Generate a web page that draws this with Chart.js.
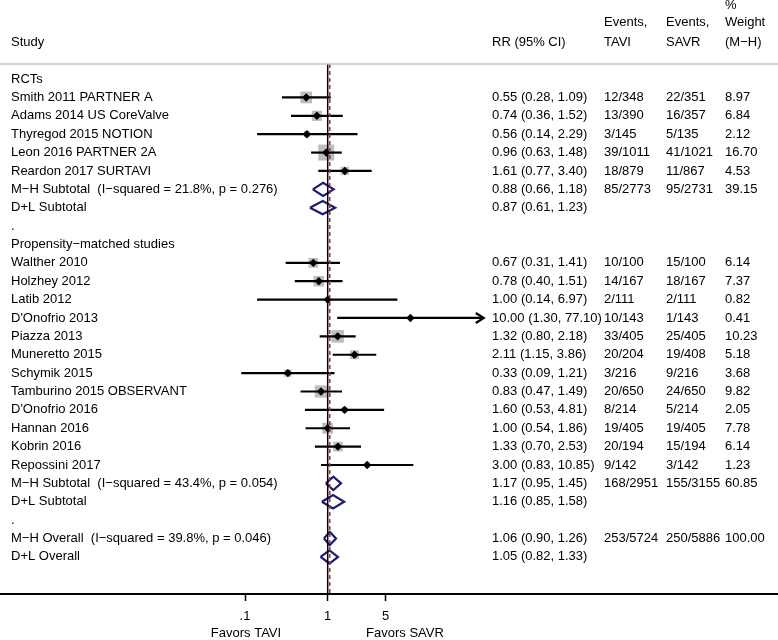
<!DOCTYPE html>
<html>
<head>
<meta charset="utf-8">
<script src="https://cdn.jsdelivr.net/npm/chart.js@4/dist/chart.umd.min.js"></script>
<style>
html,body{margin:0;padding:0;background:#fff;}
canvas{display:block;}
</style>
</head>
<body>
<canvas id="c" width="778" height="640"></canvas>
<script>
// ---------------- data ----------------
const rowLabels = [
  "RCTs",
  "Smith 2011 PARTNER A",
  "Adams 2014 US CoreValve",
  "Thyregod 2015 NOTION",
  "Leon 2016 PARTNER 2A",
  "Reardon 2017 SURTAVI",
  "M\u2212H Subtotal  (I\u2212squared = 21.8%, p = 0.276)",
  "D+L Subtotal",
  ".",
  "Propensity\u2212matched studies",
  "Walther 2010",
  "Holzhey 2012",
  "Latib 2012",
  "D'Onofrio 2013",
  "Piazza 2013",
  "Muneretto 2015",
  "Schymik 2015",
  "Tamburino 2015 OBSERVANT",
  "D'Onofrio 2016",
  "Hannan 2016",
  "Kobrin 2016",
  "Repossini 2017",
  "M\u2212H Subtotal  (I\u2212squared = 43.4%, p = 0.054)",
  "D+L Subtotal",
  ".",
  "M\u2212H Overall  (I\u2212squared = 39.8%, p = 0.046)",
  "D+L Overall"
];
const rowKinds = [
  "head","study","study","study","study","study","pooled","pooled","blank",
  "head","study","study","study","study","study","study","study","study","study","study","study","study",
  "pooled","pooled","blank","pooled","pooled"
];
const rr = [null,0.55,0.74,0.56,0.96,1.61,0.88,0.87,null,
  null,0.67,0.78,1.00,10.00,1.32,2.11,0.33,0.83,1.60,1.00,1.33,3.00,
  1.17,1.16,null,1.06,1.05];
const ciLow = [null,0.28,0.36,0.14,0.63,0.77,0.66,0.61,null,
  null,0.31,0.40,0.14,1.30,0.80,1.15,0.09,0.47,0.53,0.54,0.70,0.83,
  0.95,0.85,null,0.90,0.82];
const ciHigh = [null,1.09,1.52,2.29,1.48,3.40,1.18,1.23,null,
  null,1.41,1.51,6.97,77.10,2.18,3.86,1.21,1.49,4.81,1.86,2.53,10.85,
  1.45,1.58,null,1.26,1.33];
const eventsTAVI = ["","12/348","13/390","3/145","39/1011","18/879","85/2773","","",
  "","10/100","14/167","2/111","10/143","33/405","20/204","3/216","20/650","8/214","19/405","20/194","9/142",
  "168/2951","","","253/5724",""];
const eventsSAVR = ["","22/351","16/357","5/135","41/1021","11/867","95/2731","","",
  "","15/100","18/167","2/111","1/143","25/405","19/408","9/216","24/650","5/214","19/405","15/194","3/142",
  "155/3155","","","250/5886",""];
const weights = [null,8.97,6.84,2.12,16.70,4.53,39.15,null,null,
  null,6.14,7.37,0.82,0.41,10.23,5.18,3.68,9.82,2.05,7.78,6.14,1.23,
  60.85,null,null,100.00,null];
const tickValues = [0.1, 1, 5];
const tickLabels = [".1", "1", "5"];
const overallRR = 1.06;
const nullValue = 1;

// ---------------- styling ----------------
const FONT = '"Liberation Sans", Arial, Helvetica, sans-serif';
const FS = 13;
const NAVY = '#1b1b78';
const MAROON = '#93383e';
const BOX = '#bdbdbd';
const boxK = 3.9;          // box side = boxK * sqrt(weight) px
const diamondHalf = 0.36;  // half height of pooled diamonds, in rows

const studyIdx = rowKinds.map((k,i)=>k==='study'?i:-1).filter(i=>i>=0);
const pooledIdx = rowKinds.map((k,i)=>k==='pooled'?i:-1).filter(i=>i>=0);

const datasets = [];
// weight boxes
datasets.push({
  data: studyIdx.map(i=>({x:rr[i], y:i})),
  pointStyle:'rect',
  pointRadius: studyIdx.map(i=>boxK*Math.sqrt(weights[i])/Math.SQRT2),
  backgroundColor: BOX, borderWidth:0, showLine:false, order:5
});
// CI lines
studyIdx.forEach(i=>{
  datasets.push({
    data:[{x:ciLow[i], y:i},{x:ciHigh[i], y:i}],
    showLine:true, borderColor:'#000', borderWidth:2.2, pointRadius:0, order:4
  });
});
// point estimates
datasets.push({
  data: studyIdx.map(i=>({x:rr[i], y:i})),
  pointStyle:'rectRot', pointRadius:4.2,
  backgroundColor:'#000', borderWidth:0, showLine:false, order:3
});
// pooled diamonds
pooledIdx.forEach(i=>{
  datasets.push({
    data:[{x:ciLow[i],y:i},{x:rr[i],y:i-diamondHalf},{x:ciHigh[i],y:i},{x:rr[i],y:i+diamondHalf},{x:ciLow[i],y:i}],
    showLine:true, borderColor:NAVY, borderWidth:2.2, pointRadius:0, fill:false,
    borderJoinStyle:'miter', order:2
  });
});

const forestPlugin = {
  id:'forest',
  afterDatasetsDraw(chart){
    const ctx = chart.ctx, x = chart.scales.x, a = chart.chartArea;
    ctx.save();
    // null line
    ctx.strokeStyle = '#000'; ctx.lineWidth = 1.5;
    ctx.beginPath();
    const px1 = x.getPixelForValue(nullValue);
    ctx.moveTo(px1, a.top); ctx.lineTo(px1, a.bottom); ctx.stroke();
    // overall estimate line
    ctx.strokeStyle = MAROON; ctx.lineWidth = 1.5; ctx.setLineDash([4,3]);
    const po = x.getPixelForValue(overallRR);
    ctx.beginPath(); ctx.moveTo(po, a.top); ctx.lineTo(po, a.bottom); ctx.stroke();
    ctx.setLineDash([]);
    // arrow for CI exceeding the plotted range
    const y = chart.scales.y;
    studyIdx.forEach(i=>{
      if (ciHigh[i] > 50) {
        const tx = x.getPixelForValue(ciHigh[i]), ty = y.getPixelForValue(i);
        ctx.strokeStyle = '#000'; ctx.lineWidth = 2.2;
        ctx.beginPath();
        ctx.moveTo(tx-8, ty-5); ctx.lineTo(tx, ty); ctx.lineTo(tx-8, ty+5);
        ctx.stroke();
      }
    });
    ctx.restore();
  },
  afterDraw(chart){
    const ctx = chart.ctx, a = chart.chartArea, y = chart.scales.y;
    ctx.save();
    // header separator
    ctx.strokeStyle = '#c4c4c4'; ctx.lineWidth = 1.5;
    ctx.beginPath(); ctx.moveTo(0, a.top); ctx.lineTo(chart.width, a.top); ctx.stroke();

    ctx.fillStyle = '#000';
    ctx.font = FS + 'px ' + FONT;
    ctx.textBaseline = 'middle';
    ctx.textAlign = 'left';
    const colLabel = 11, colRR = 492, colT = 604, colS = 666, colW = 725;
    // headers
    ctx.fillText('Study', colLabel, 42);
    ctx.fillText('RR (95% CI)', colRR, 42);
    ctx.fillText('Events,', colT, 22);
    ctx.fillText('TAVI', colT, 42);
    ctx.fillText('Events,', colS, 22);
    ctx.fillText('SAVR', colS, 42);
    ctx.fillText('%', colW, 5);
    ctx.fillText('Weight', colW, 22);
    ctx.fillText('(M\u2212H)', colW, 42);
    // rows
    rowLabels.forEach((lab,i)=>{
      const py = y.getPixelForValue(i);
      ctx.fillText(lab, colLabel, py);
      if (rr[i] != null) {
        ctx.fillText(rr[i].toFixed(2)+' ('+ciLow[i].toFixed(2)+', '+ciHigh[i].toFixed(2)+')', colRR, py);
      }
      if (eventsTAVI[i]) ctx.fillText(eventsTAVI[i], colT, py);
      if (eventsSAVR[i]) ctx.fillText(eventsSAVR[i], colS, py);
      if (weights[i] != null) ctx.fillText(weights[i].toFixed(2), colW, py);
    });
    // favors labels
    ctx.textAlign = 'center';
    ctx.fillText('Favors TAVI', 246, 633);
    ctx.fillText('Favors SAVR', 405, 633);
    ctx.restore();
  }
};

new Chart(document.getElementById('c'), {
  type:'scatter',
  data:{datasets},
  options:{
    responsive:false, animation:false, devicePixelRatio:1,
    layout:{autoPadding:false, padding:{top:64, left:0, right:0, bottom:0}},
    plugins:{legend:{display:false}, tooltip:{enabled:false}},
    scales:{
      x:{
        type:'logarithmic',
        offset:false,
        min: Math.pow(10, -327.7/82.7),
        max: Math.pow(10, (778-327.7)/82.7),
        afterBuildTicks: s => { s.ticks = tickValues.map(v=>({value:v})); },
        afterFit: s => { s.height = 46; },
        ticks:{
          autoSkip:false, maxRotation:0, minRotation:0, padding:8, color:'#000',
          font:{family:FONT, size:FS},
          callback: (v) => { const k = tickValues.indexOf(v); return k>=0 ? tickLabels[k] : ''; }
        },
        grid:{display:true, drawOnChartArea:false, drawTicks:true, tickLength:7, tickWidth:1.5, tickColor:'#000'},
        border:{display:true, color:'#000', width:2}
      },
      y:{
        type:'linear', reverse:true, display:false,
        min:-0.82, max:28.02
      }
    }
  },
  plugins:[forestPlugin]
});
</script>
</body>
</html>
